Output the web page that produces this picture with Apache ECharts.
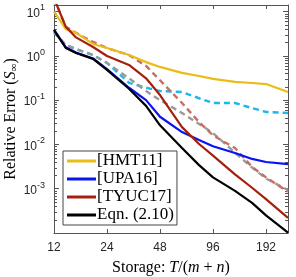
<!DOCTYPE html>
<html>
<head>
<meta charset="utf-8">
<script src="https://cdn.jsdelivr.net/npm/echarts@6/dist/echarts.min.js"></script>
<style>html,body{margin:0;padding:0;background:#fff}#c{width:296px;height:277px}</style>
</head>
<body>
<div id="c"></div>
<script>
// Storage T/(m+n)
const storage = [12, 14, 16, 20, 24, 32, 40, 48, 64, 80, 96, 128, 160, 192, 256];
const hmt11  = [10, 4.0, 3.3, 1.85, 1.5, 1.04, 0.72, 0.56, 0.41, 0.35, 0.30, 0.257, 0.243, 0.23, 0.152];
const upa16  = [3.9, 1.55, 1.18, 0.87, 0.5, 0.19, 0.1, 0.042, 0.019, 0.0126, 0.0091, 0.0064, 0.0047, 0.004, 0.0036];
const tyuc17 = [20, 4.5, 2.6, 1.58, 0.99, 0.62, 0.31, 0.13, 0.0245, 0.0102, 0.0056, 0.0021, 0.00105, 0.00058, 0.00022];
const eqn210 = [3.8, 1.5, 1.16, 0.85, 0.48, 0.18, 0.074, 0.027, 0.0083, 0.0034, 0.0018, 0.00089, 0.00048, 0.00025, 0.000102];
const cyanDashed   = [3.4, 1.75, 1.42, 1.04, 0.69, 0.245, 0.19, 0.16, 0.152, 0.11, 0.086, 0.086, 0.066, 0.054, 0.051];
const grayDashed   = [3.4, 1.75, 1.42, 1.04, 0.69, 0.31, 0.16, 0.1, 0.051, 0.029, 0.018, 0.0065, 0.003, 0.0017, 0.00093];
const salmonDashed = [20, 4.5, 3.3, 2.05, 1.5, 1.04, 0.59, 0.28, 0.086, 0.032, 0.016, 0.0083, 0.0031, 0.0018, 0.00085];
const xTickLabels = [12, 24, 48, 96, 192];
const yTickExponents = [-3, -2, -1, 0, 1];

const base = 12, xMaxT = 256, yMin = 1e-4, yMax = 14;
const pts = arr => storage.map((t, i) => [t / base, arr[i]]);

const minorVals = [];
for (let k = -4; k <= 1; k++) for (let m = 2; m <= 9; m++) { const v = m * Math.pow(10, k); if (v < yMax) minorVals.push(v); }

const axisCol = '#555';
const serif = 'Liberation Serif';
const sans = 'Liberation Sans';

function solid(name, color, data, z) {
  return { name, type: 'line', data: pts(data), showSymbol: false, symbol: 'none', color,
    lineStyle: { color, width: 2.2 }, z, animation: false };
}
function dashed(name, color, data, z) {
  return { name, type: 'line', data: pts(data), showSymbol: false, symbol: 'none', color,
    lineStyle: { color, width: 2.4, type: [6, 4] }, z, animation: false };
}

const xCommon = {
  type: 'log', logBase: 2, min: 1, max: xMaxT / base, interval: 1,
  axisLine: { show: true, lineStyle: { color: axisCol, width: 1 } },
  axisTick: { show: true, inside: true, length: 4, lineStyle: { color: axisCol } },
  splitLine: { show: false }
};
const yCommon = {
  type: 'log', logBase: 10, min: yMin, max: yMax,
  axisLine: { show: true, lineStyle: { color: axisCol, width: 1 } },
  axisTick: { show: true, inside: true, length: 5, lineStyle: { color: axisCol } },
  splitLine: { show: false }
};

const option = {
  backgroundColor: '#fff',
  animation: false,
  grid: { left: 54, right: 8, top: 5, bottom: 44, containLabel: false, outerBoundsMode: 'none' },
  legend: {
    data: ['[HMT11]', '[UPA16]', '[TYUC17]', 'Eqn. (2.10)'],
    orient: 'vertical', left: 63, top: 151,
    icon: 'rect', itemWidth: 29, itemHeight: 3, itemGap: 0,
    borderColor: '#444', borderWidth: 1, padding: [1, 3, 1, 4],
    backgroundColor: '#fff',
    textStyle: { fontFamily: serif, fontSize: 17, lineHeight: 18, color: '#000', padding: [0, 0, 0, -4] }
  },
  xAxis: [
    Object.assign({}, xCommon, {
      position: 'bottom',
      axisLabel: { show: true, margin: 9, fontFamily: sans, fontSize: 12, color: '#262626',
        formatter: v => { const t = Math.round(v * base); return xTickLabels.includes(t) ? String(t) : ''; } },
      name: '{n|Storage: }{i|T}{n|/(}{i|m}{n| + }{i|n}{n|)}',
      nameLocation: 'middle', nameGap: 27, nameMoveOverlap: false,
      nameTextStyle: { rich: {
        n: { fontFamily: serif, fontSize: 16, color: '#000' },
        i: { fontFamily: serif, fontSize: 16, fontStyle: 'italic', color: '#000' } } }
    }),
    Object.assign({}, xCommon, { position: 'top', axisLabel: { show: false } })
  ],
  yAxis: [
    Object.assign({}, yCommon, {
      position: 'left',
      axisLabel: { show: true, margin: 9, fontFamily: sans, fontSize: 12, color: '#262626',
        formatter: v => {
          const l = Math.log10(v), e = Math.round(l);
          if (Math.abs(l - e) > 1e-6 || !yTickExponents.includes(e)) return '';
          return '{b|10}{s|' + (e < 0 ? '-' : '') + Math.abs(e) + '}';
        },
        rich: {
          b: { fontFamily: sans, fontSize: 12, color: '#262626', lineHeight: 16, verticalAlign: 'bottom' },
          s: { fontFamily: sans, fontSize: 9, color: '#262626', lineHeight: 16, verticalAlign: 'top', padding: [0, 0, 4, 0] }
        } },
      name: '{n|Relative Error (}{i|S}{sub|∞}{n|)}',
      nameLocation: 'middle', nameGap: 34, nameMoveOverlap: false,
      nameTextStyle: { rich: {
        n: { fontFamily: serif, fontSize: 16, color: '#000', lineHeight: 18 },
        i: { fontFamily: serif, fontSize: 16, fontStyle: 'italic', color: '#000', lineHeight: 18 },
        sub: { fontFamily: serif, fontSize: 11, color: '#000', lineHeight: 18, padding: [7, 0, 0, 0] } } }
    }),
    Object.assign({}, yCommon, { position: 'right', axisLabel: { show: false } })
  ],
  series: [
    dashed('cyan', '#1fb6ea', cyanDashed, 2),
    dashed('gray', '#9a9a9a', grayDashed, 3),
    dashed('salmon', '#c8705f', salmonDashed, 3),
    solid('[HMT11]', '#e8bd16', hmt11, 4),
    solid('[UPA16]', '#0a14f0', upa16, 5),
    solid('[TYUC17]', '#a5200c', tyuc17, 5),
    solid('Eqn. (2.10)', '#000000', eqn210, 6),
    {
      type: 'custom', name: 'minorTicks', silent: true, z: 1,
      data: minorVals.map(v => [1, v]),
      renderItem: (params, api) => {
        const v = api.value(1);
        const p = api.coord([1, v]);
        const q = api.coord([xMaxT / base, v]);
        const st = { stroke: axisCol, lineWidth: 1 };
        return { type: 'group', children: [
          { type: 'line', shape: { x1: p[0], y1: Math.round(p[1]) + 0.5, x2: p[0] + 3, y2: Math.round(p[1]) + 0.5 }, style: st },
          { type: 'line', shape: { x1: q[0] - 3, y1: Math.round(q[1]) + 0.5, x2: q[0], y2: Math.round(q[1]) + 0.5 }, style: st }
        ] };
      },
      clip: false, animation: false
    }
  ]
};
const chart = echarts.init(document.getElementById('c'), null, { renderer: 'canvas' });
chart.setOption(option);
</script>
</body>
</html>
